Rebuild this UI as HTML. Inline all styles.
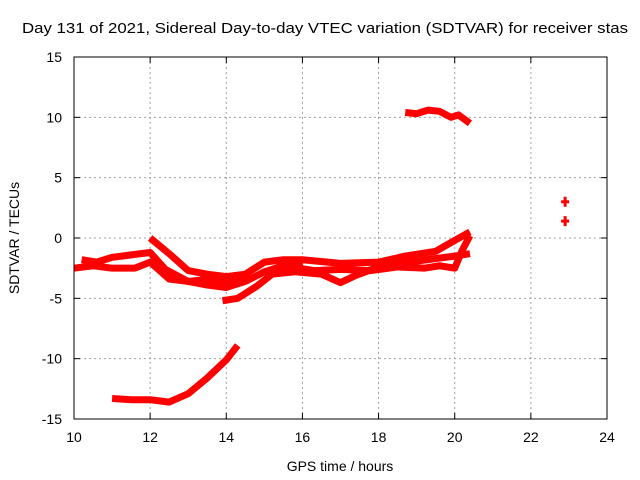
<!DOCTYPE html>
<html><head><meta charset="utf-8"><style>
body{margin:0;background:#fff}
svg{display:block;font-family:"Liberation Sans",sans-serif;font-size:14px}
</style></head><body>
<svg id="chart" width="640" height="480">
<rect width="640" height="480" fill="#fff"/>
<text x="22" y="33" textLength="606" lengthAdjust="spacingAndGlyphs" style="font-size:15px">Day 131 of 2021, Sidereal Day-to-day VTEC variation (SDTVAR) for receiver stas</text>
<g id="grid"></g>
<g id="series"></g>
<rect x="74" y="57" width="533" height="362" fill="none" stroke="#000"/>
<g id="ticks"></g>
<text x="340" y="471" text-anchor="middle">GPS time / hours</text>
<text transform="translate(19,238) rotate(-90)" text-anchor="middle">SDTVAR / TECUs</text>
</svg>
<script>
const xTicks=[10,12,14,16,18,20,22,24];
const yTicks=[-15,-10,-5,0,5,10,15];
const seriesTop=[[18.7,10.4],[19.0,10.3],[19.3,10.6],[19.6,10.5],[19.9,10.0],[20.1,10.2],[20.4,9.5]];
const seriesBottom=[[11.0,-13.3],[11.5,-13.4],[12.0,-13.4],[12.5,-13.6],[13.0,-12.9],[13.5,-11.6],[14.0,-10.1],[14.3,-8.9]];
const seriesUpperLeft=[[10.2,-1.8],[10.6,-2.0],[11.0,-1.6],[11.5,-1.4],[12.0,-1.2],[12.4,-2.6],[13.0,-3.6],[13.5,-3.9],[14.0,-4.1],[14.5,-3.6],[15.0,-2.8],[15.5,-2.3],[16.0,-2.0]];
const seriesLowerLeft=[[10.0,-2.5],[10.5,-2.3],[11.0,-2.5],[11.6,-2.5],[12.0,-2.0],[12.5,-3.4],[13.0,-3.6],[13.6,-3.4],[14.2,-3.6],[14.6,-3.5]];
const seriesArc=[[12.0,0.0],[12.5,-1.3],[13.0,-2.7],[13.5,-3.0],[14.0,-3.2],[14.5,-3.0],[15.0,-2.0],[15.5,-1.8],[16.0,-1.8],[17.0,-2.1],[18.0,-2.0],[18.7,-1.5],[19.5,-1.1],[20.0,-0.2],[20.4,0.5]];
const seriesDip=[[13.9,-5.2],[14.3,-5.0],[14.8,-4.0],[15.2,-3.0],[15.8,-2.8],[16.5,-3.0],[17.0,-3.7],[17.4,-3.1],[18.0,-2.4],[18.8,-2.0],[19.5,-1.7],[20.0,-1.5],[20.4,-1.3]];
const seriesMid=[[15.5,-2.3],[16.3,-2.7],[17.0,-2.6],[17.8,-2.7],[18.5,-2.4],[19.2,-2.5],[19.6,-2.3],[20.0,-2.5],[20.2,-1.0],[20.4,0.2]];
const seriesPoints=[[22.9,3.0],[22.9,1.4]];
const X=h=>74+(h-10)*533/14;
const Y=v=>238-v*362/30;
const NS="http://www.w3.org/2000/svg";
const grid=document.getElementById('grid'),ticks=document.getElementById('ticks'),ser=document.getElementById('series');
function mk(tag,attrs,parent){const e=document.createElementNS(NS,tag);for(const k in attrs)e.setAttribute(k,attrs[k]);parent.appendChild(e);return e;}
xTicks.forEach(t=>{
  const g=mk('line',{x1:X(t),x2:X(t),y1:57,y2:419,stroke:'#a0a0a0','stroke-dasharray':'2,3'},grid);
  
  
  mk('line',{x1:X(t),x2:X(t),y1:419,y2:413,stroke:'#000'},ticks);
  mk('line',{x1:X(t),x2:X(t),y1:57,y2:63,stroke:'#000'},ticks);
  const l=mk('text',{x:X(t),y:442,'text-anchor':'middle'},ticks);l.textContent=t;
  
  
});
yTicks.forEach(t=>{
  const g=mk('line',{x1:74,x2:607,y1:Y(t),y2:Y(t),stroke:'#a0a0a0','stroke-dasharray':'2,3'},grid);
  
  
  mk('line',{x1:74,x2:80,y1:Y(t),y2:Y(t),stroke:'#000'},ticks);
  mk('line',{x1:607,x2:601,y1:Y(t),y2:Y(t),stroke:'#000'},ticks);
  const l=mk('text',{x:62,y:Y(t)+5,'text-anchor':'end'},ticks);l.textContent=t;
  
  
});
[seriesTop,seriesBottom,seriesUpperLeft,seriesLowerLeft,seriesArc,seriesDip,seriesMid].forEach(s=>{
  const p=mk('polyline',{points:s.map(d=>X(d[0])+','+Y(d[1])).join(' '),fill:'none',stroke:'#ff0000','stroke-width':7,'stroke-linejoin':'round'},ser);
  
  
});
seriesPoints.forEach(d=>{
  const c=mk('path',{d:`M${X(d[0])-4},${Y(d[1])}h8M${X(d[0])},${Y(d[1])-5}v10`,stroke:'#ff0000','stroke-width':3},ser);
  
  
});
</script>
</body></html>
